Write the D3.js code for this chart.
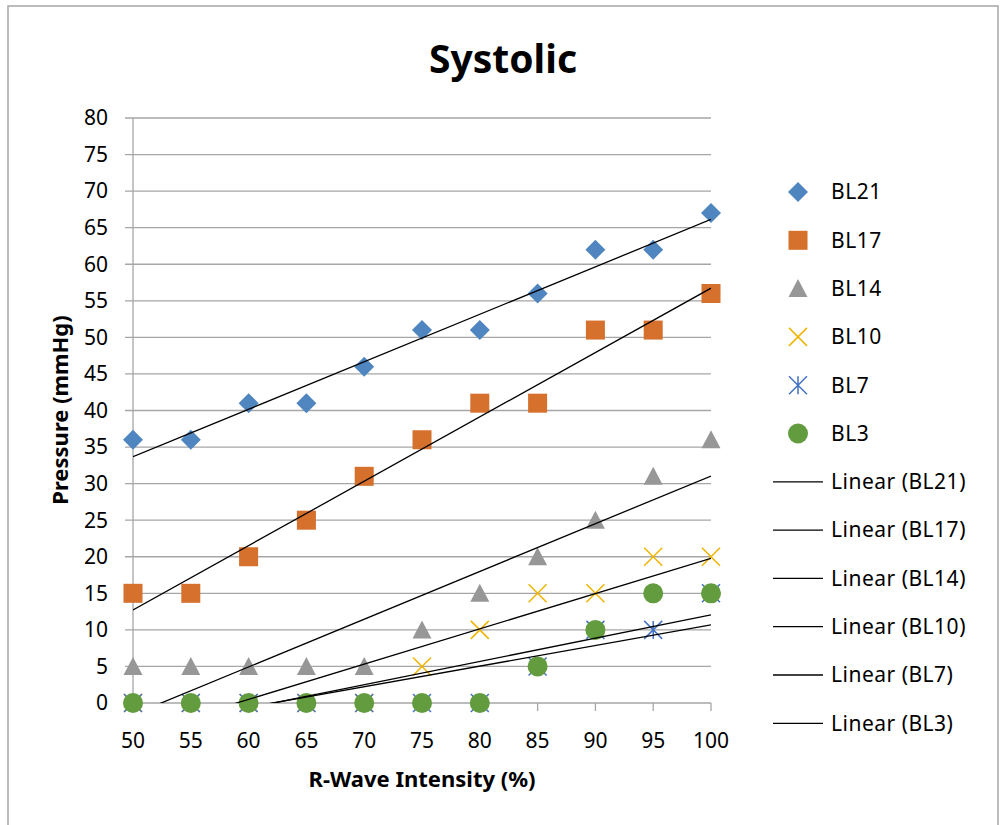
<!DOCTYPE html>
<html><head><meta charset="utf-8">
<script src="https://cdn.jsdelivr.net/npm/d3@7"></script>
<style>body{margin:0;background:#fff}</style>
</head><body>
<svg id="c" width="1004" height="825"></svg>
<script>
const xValues = [50,55,60,65,70,75,80,85,90,95,100];
const seriesNames = ["BL21","BL17","BL14","BL10","BL7","BL3"];
const BL21 = [36,36,41,41,46,51,51,56,62,62,67];
const BL17 = [15,15,20,25,31,36,41,41,51,51,56];
const BL14 = [5,5,5,5,5,10,15,20,25,31,36];
const BL10 = [0,0,0,0,0,5,10,15,15,20,20];
const BL7  = [0,0,0,0,0,0,0,5,10,10,15];
const BL3  = [0,0,0,0,0,0,0,5,10,15,15];
const yTicks = [0,5,10,15,20,25,30,35,40,45,50,55,60,65,70,75,80];
const xTicks = [50,55,60,65,70,75,80,85,90,95,100];

const seriesData = [BL21,BL17,BL14,BL10,BL7,BL3];
const colors = ["#4F86C0","#D5702D","#979797","#F0B400","#4472C4","#629C3E"];
const shapes = ["diamond","square","triangle","x","star","circle"];

const svg = d3.select("#c");
const font = "'Noto Sans', 'Open Sans', sans-serif";
const L=133, R=711, T=118, B=703;
const x = d3.scaleLinear().domain([50,100]).range([L,R]);
const y = d3.scaleLinear().domain([0,80]).range([B,T]);

// border
svg.append("rect").attr("x",8).attr("y",6).attr("width",990).attr("height",830)
  .attr("fill","none").attr("stroke","#A6A6A6").attr("stroke-width",1.5);

// title
svg.append("text").attr("x",503).attr("y",73).attr("text-anchor","middle")
  .attr("font-family",font).attr("font-weight","bold").attr("font-size",39).text("Systolic");

// gridlines
svg.append("g").selectAll("line").data(yTicks).join("line")
  .attr("x1",L-8).attr("x2",R).attr("y1",d=>y(d)).attr("y2",d=>y(d))
  .attr("stroke","#A6A6A6").attr("stroke-width",1.3);
// y axis line
svg.append("line").attr("x1",L).attr("x2",L).attr("y1",T).attr("y2",B+8)
  .attr("stroke","#A6A6A6").attr("stroke-width",1.3);
// x ticks
svg.append("g").selectAll("line").data(xTicks).join("line")
  .attr("x1",d=>x(d)).attr("x2",d=>x(d)).attr("y1",B).attr("y2",B+8)
  .attr("stroke","#A6A6A6").attr("stroke-width",1.3);

// tick labels
svg.append("g").selectAll("text").data(yTicks).join("text")
  .attr("x",L-25).attr("y",d=>y(d)).attr("dy","0.35em").attr("text-anchor","end")
  .attr("font-family",font).attr("font-size",21).text(d=>d);
svg.append("g").selectAll("text").data(xTicks).join("text")
  .attr("x",d=>x(d)).attr("y",B+45).attr("text-anchor","middle")
  .attr("font-family",font).attr("font-size",21).text(d=>d);

// axis titles
svg.append("text").attr("x",422).attr("y",787).attr("text-anchor","middle")
  .attr("font-family",font).attr("font-weight","bold").attr("font-size",22).text("R-Wave Intensity (%)");
svg.append("text").attr("transform","translate(68,410) rotate(-90)").attr("text-anchor","middle")
  .attr("font-family",font).attr("font-weight","bold").attr("font-size",22).text("Pressure (mmHg)");

// markers
function drawMarker(g, shape, color, cx, cy){
  if(shape==="diamond"){
    g.append("path").attr("d",`M${cx},${cy-10}L${cx+10},${cy}L${cx},${cy+10}L${cx-10},${cy}Z`).attr("fill",color);
  } else if(shape==="square"){
    g.append("rect").attr("x",cx-9.5).attr("y",cy-9.5).attr("width",19).attr("height",19).attr("fill",color);
  } else if(shape==="triangle"){
    g.append("path").attr("d",`M${cx},${cy-9.5}L${cx+9.5},${cy+8.5}L${cx-9.5},${cy+8.5}Z`).attr("fill",color);
  } else if(shape==="x"){
    g.append("path").attr("d",`M${cx-9},${cy-9}L${cx+9},${cy+9}M${cx+9},${cy-9}L${cx-9},${cy+9}`)
      .attr("stroke",color).attr("stroke-width",1.5).attr("fill","none");
  } else if(shape==="star"){
    g.append("path").attr("d",`M${cx-9},${cy-9}L${cx+9},${cy+9}M${cx+9},${cy-9}L${cx-9},${cy+9}M${cx},${cy-9}L${cx},${cy+9}`)
      .attr("stroke",color).attr("stroke-width",1.5).attr("fill","none");
  } else {
    g.append("circle").attr("cx",cx).attr("cy",cy).attr("r",10).attr("fill",color);
  }
}

// clip for trendlines
svg.append("clipPath").attr("id","plotclip").append("rect")
  .attr("x",L).attr("y",T).attr("width",R-L).attr("height",B-T);

const mg = svg.append("g");
seriesData.forEach((vals,i)=>{
  vals.forEach((v,j)=>drawMarker(mg, shapes[i], colors[i], x(xValues[j]), y(v)));
});

// trendlines (least-squares)
const tg = svg.append("g").attr("clip-path","url(#plotclip)");
const line = d3.line().x(d=>x(d[0])).y(d=>y(d[1]));
seriesData.forEach(vals=>{
  const mx = d3.mean(xValues), my = d3.mean(vals);
  let sxy=0,sxx=0;
  xValues.forEach((xv,j)=>{sxy+=(xv-mx)*(vals[j]-my); sxx+=(xv-mx)*(xv-mx);});
  const m = sxy/sxx, b = my - m*mx;
  tg.append("path").datum([[50,m*50+b],[100,m*100+b]]).attr("d",line)
    .attr("stroke","#000").attr("stroke-width",1.3).attr("fill","none");
});

// legend
const lg = svg.append("g");
const rowY = i => 192 + i*48.3;
seriesNames.forEach((n,i)=>{
  drawMarker(lg, shapes[i], colors[i], 798, rowY(i));
  lg.append("text").attr("x",831).attr("y",rowY(i)).attr("dy","0.35em")
    .attr("font-family",font).attr("font-size",21).attr("letter-spacing",0.5).text(n);
});
seriesNames.forEach((n,k)=>{
  const i = k+6;
  lg.append("line").attr("x1",773).attr("x2",823).attr("y1",rowY(i)).attr("y2",rowY(i))
    .attr("stroke","#000").attr("stroke-width",1.3);
  lg.append("text").attr("x",831).attr("y",rowY(i)).attr("dy","0.35em")
    .attr("font-family",font).attr("font-size",21).attr("letter-spacing",0.5).text("Linear ("+n+")");
});
</script>
</body></html>
